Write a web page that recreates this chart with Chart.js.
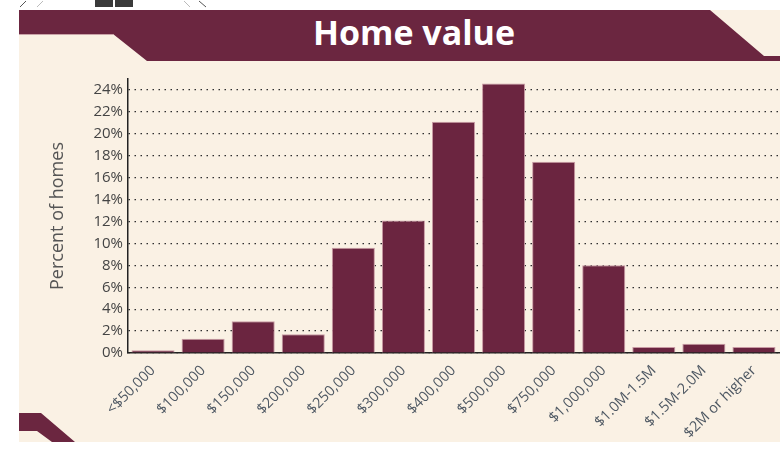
<!DOCTYPE html>
<html>
<head>
<meta charset="utf-8">
<script src="https://cdn.jsdelivr.net/npm/chart.js@4/dist/chart.umd.min.js"></script>
<style>
  html, body { margin:0; padding:0; background:#ffffff; }
  #wrap { position:relative; width:782px; height:449px; overflow:hidden; background:#fff; }
  #panel { position:absolute; left:19px; top:10px; width:761px; height:432px; background:#FAF1E4; }
  #deco { position:absolute; left:0; top:0; }
  #title { position:absolute; left:0; width:828px; top:11px; text-align:center; color:#fff;
           font-family:"Open Sans", sans-serif; font-weight:700; font-size:34px; line-height:42px; }
  #c { position:absolute; left:0; top:0; }
</style>
</head>
<body>
<div id="wrap">
  <div id="panel"></div>
  <svg id="deco" width="782" height="449">
    <polygon points="19,10 710,10 764,56 780,56 780,61 147,61 113,34 19,34" fill="#6B2640"/>
    <line x1="113" y1="34.5" x2="19" y2="34.5" stroke="#c9a3a8" stroke-width="1"/>
    <polygon points="19,413 41,413 75,442 52,442 37,431 19,431" fill="#6B2640"/>
    <rect x="95" y="0" width="18" height="7" fill="#3a3a3a"/>
    <rect x="115" y="0" width="18" height="7" fill="#3a3a3a"/>
    <line x1="20" y1="7" x2="26" y2="1" stroke="#555" stroke-width="1"/>
    <line x1="37" y1="7" x2="43" y2="1" stroke="#bbb" stroke-width="1"/>
    <line x1="184" y1="1" x2="190" y2="7" stroke="#bbb" stroke-width="1"/>
    <line x1="199" y1="1" x2="206" y2="7" stroke="#555" stroke-width="1"/>
  </svg>
  <div id="title">Home value</div>
  <canvas id="c" width="782" height="449"></canvas>
</div>
<script>
const categories = ['<$50,000','$100,000','$150,000','$200,000','$250,000','$300,000','$400,000','$500,000','$750,000','$1,000,000','$1.0M-1.5M','$1.5M-2.0M','$2M or higher'];
const percentHomes = [0.25, 1.3, 2.9, 1.7, 9.6, 12.1, 21.1, 24.6, 17.45, 8.0, 0.55, 0.85, 0.55];
const yTickValues = [0,2,4,6,8,10,12,14,16,18,20,22,24];
const yTitle = 'Percent of homes';

new Chart(document.getElementById('c'), {
  type: 'bar',
  data: {
    labels: categories,
    datasets: [{
      data: percentHomes,
      backgroundColor: '#6B2540',
      borderColor: '#c99aa4',
      borderWidth: 1,
      barPercentage: 0.86,
      categoryPercentage: 1.0
    }]
  },
  options: {
    responsive: false,
    animation: false,
    layout: { padding: { top: 79, right: 3, left: 0, bottom: 0 } },
    plugins: { legend: { display: false }, tooltip: { enabled: false }, title: { display: false } },
    scales: {
      x: {
        grid: { display: false, drawTicks: false },
        border: { display: true, color: '#222', width: 1.5 },
        ticks: {
          autoSkip: false, maxRotation: 45, minRotation: 45, padding: 9,
          color: '#4e5863', font: { family: '"Open Sans", sans-serif', size: 14.5 }
        },
        afterFit: (s) => { s.height = 96; }
      },
      y: {
        min: 0, max: 25,
        afterBuildTicks: (s) => { s.ticks = yTickValues.map(v => ({ value: v })); },
        grid: { color: '#2e2e2e', lineWidth: 1.2, drawTicks: false },
        border: { display: true, color: '#222', width: 1.5, dash: [1.5, 4.5] },
        ticks: {
          padding: 5, color: '#444',
          font: { family: '"Open Sans", sans-serif', size: 15 },
          callback: (v) => v + '%'
        },
        title: {
          display: true, text: yTitle, color: '#555',
          font: { family: '"Open Sans", sans-serif', size: 18 },
          padding: { top: 47, bottom: 0 }
        },
        afterFit: (s) => { s.width = 128; }
      }
    }
  }
});
</script>
</body>
</html>
